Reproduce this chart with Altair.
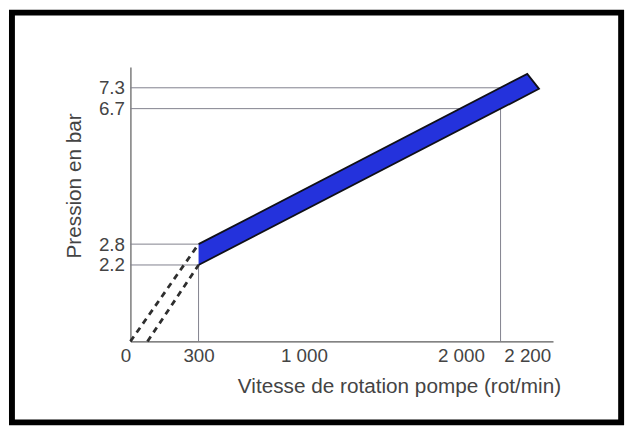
import altair as alt
import pandas as pd

# ---- values ----
x_ticks = [0, 300, 1000, 2000, 2200]
y_ticks = [2.2, 2.8, 6.7, 7.3]

# pressure band (blue): lower / upper limits
band_x = [300, 2368, 2442]
band_low = [2.2, 7.10, 7.27]
band_high = [2.8, 7.70, 7.27]

# outline of the band (upper edge, end, lower edge)
edge_x = [300, 2368, 2442, 300]
edge_y = [2.8, 7.70, 7.27, 2.2]

# dashed extrapolation lines
dash_id = ["a", "a", "b", "b"]
dash_x = [0, 300, 75, 300]
dash_y = [0, 2.8, 0, 2.2]

# reference lines
h_y = [2.2, 2.8, 6.7, 7.3]
h_xend = [300, 300, 2200, 2200]
v_x = [300, 2200]
v_yend = [2.2, 6.7]

x_domain = [0, 300, 2530]
y_domain = [0, 7.9]

W, H = 428, 278

text_col = "#444444"
font = "Liberation Sans"

xs = alt.Scale(domain=x_domain, range=[0, 69, W], nice=False)
ys = alt.Scale(domain=y_domain, nice=False, zero=True)

x_axis = alt.Axis(
    values=x_ticks,
    labelExpr="replace(format(datum.value, ','), ',', ' ')",
    labelOffset={
        "condition": [
            {"test": "datum.value == 2200", "value": 27},
            {"test": "datum.value == 2000", "value": -8},
            {"test": "datum.value == 1000", "value": -6},
            {"test": "datum.value == 0", "value": -5},
        ],
        "value": 0,
    },
    labelFlush=False,
    labelOverlap=False,
    labelPadding=5,
    title="Vitesse de rotation pompe (rot/min)",
    titleX=272,
    titleY=46,
    titleAlign="center",
    titleBaseline="middle",
)
y_axis = alt.Axis(
    values=y_ticks,
    format=".1f",
    labelPadding=6,
    labelOverlap=False,
    labelFlush=False,
    title="Pression en bar",
    titleX=-57,
    titleY=120,
    titleAlign="center",
    titleBaseline="middle",
)


def X(field):
    return alt.X(field, type="quantitative", scale=xs, axis=x_axis)


def Y(field):
    return alt.Y(field, type="quantitative", scale=ys, axis=y_axis)


line_col = "#80808c"

hdf = pd.DataFrame({"x0": [0] * len(h_y), "x_end": h_xend, "y": h_y})
hrules = alt.Chart(hdf).mark_rule(color=line_col, strokeWidth=1).encode(
    x=X("x0"), x2="x_end", y=Y("y")
)

vdf = pd.DataFrame({"x": v_x, "y0": [0] * len(v_x), "y_end": v_yend})
vrules = alt.Chart(vdf).mark_rule(color=line_col, strokeWidth=1).encode(
    x=X("x"), y=Y("y0"), y2="y_end"
)

ddf = pd.DataFrame({"id": dash_id, "x": dash_x, "y": dash_y})
dashes = alt.Chart(ddf).mark_line(
    color="#2e2e2e", strokeWidth=2.8, strokeDash=[6, 5]
).encode(x=X("x"), y=Y("y"), detail="id:N")

bdf = pd.DataFrame({"x": band_x, "lo": band_low, "hi": band_high})
band = alt.Chart(bdf).mark_area(color="#2432dc", opacity=1).encode(
    x=X("x"), y=Y("lo"), y2="hi"
)

edf = pd.DataFrame({"x": edge_x, "y": edge_y, "o": list(range(len(edge_x)))})
edge = alt.Chart(edf).mark_line(color="#101018", strokeWidth=1.8).encode(
    x=X("x"), y=Y("y"), order="o:Q"
)

frame = alt.Chart(pd.DataFrame({"k": [0]})).mark_rect(
    fillOpacity=0, stroke="black", strokeWidth=6
).encode(
    x=alt.value(-120), x2=alt.value(497), y=alt.value(-55), y2=alt.value(360)
)

chart = (
    alt.layer(hrules, vrules, dashes, band, edge, frame)
    .properties(
        width=W,
        height=H,
        autosize=alt.AutoSizeParams(type="none"),
        padding={"left": 124, "top": 57, "right": 80, "bottom": 85},
        background="white",
    )
    .configure_view(strokeOpacity=0)
    .configure_axis(
        grid=False,
        ticks=False,
        domainColor="#5a5a5a",
        domainWidth=1.2,
        labelFont=font,
        labelFontSize=19,
        labelColor=text_col,
        titleFont=font,
        titleFontSize=21,
        titleFontWeight="normal",
        titleColor=text_col,
    )
)

chart.save("out.html", embed_options={"renderer": "svg", "actions": False})
